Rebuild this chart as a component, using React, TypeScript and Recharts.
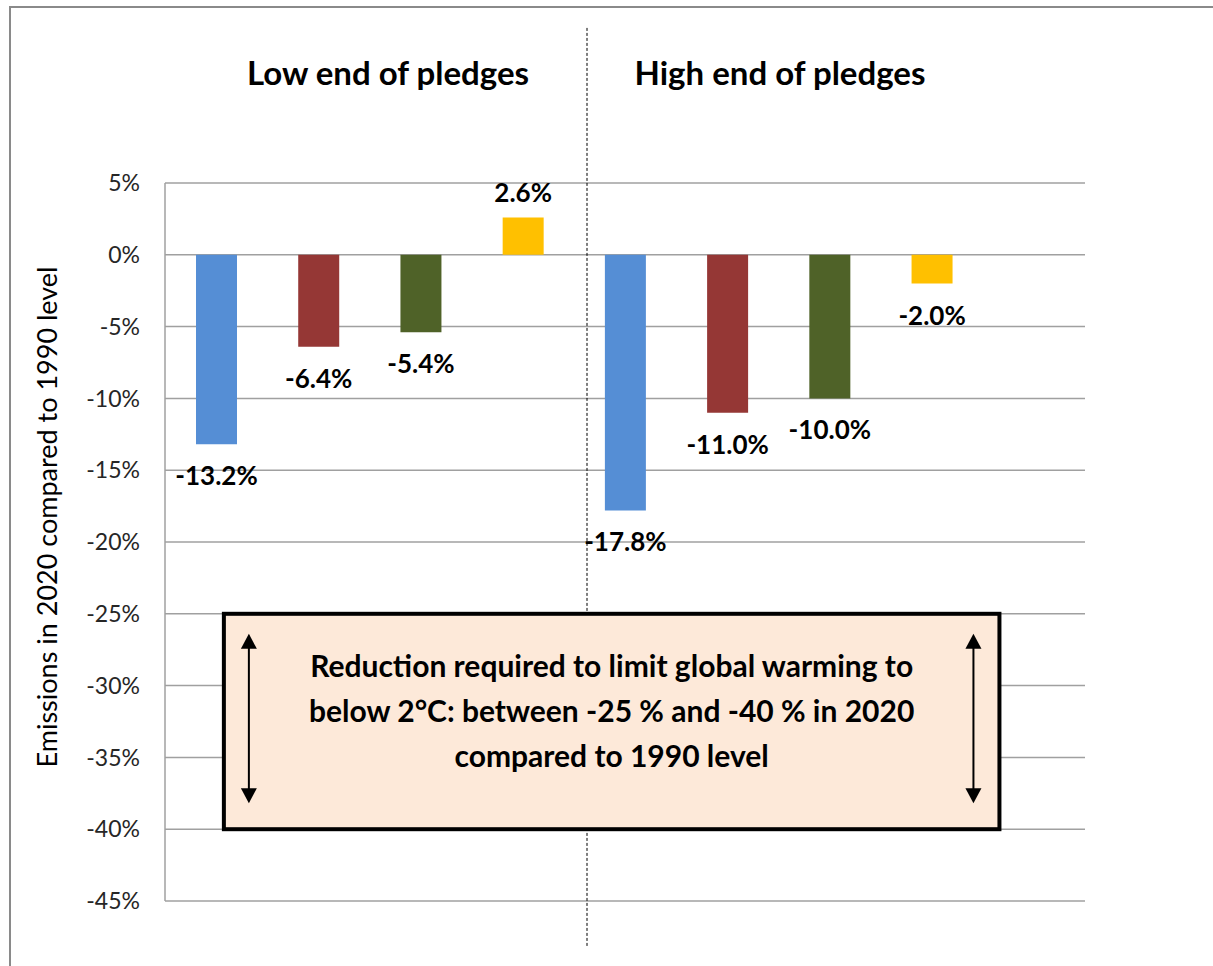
import React from 'react';
import {
  BarChart, Bar, XAxis, YAxis, CartesianGrid, Cell, LabelList, ReferenceArea,
} from 'recharts';

const categories = ['Low A', 'Low B', 'Low C', 'Low D', 'High A', 'High B', 'High C', 'High D', ''];
const values: (number | null)[] = [-13.2, -6.4, -5.4, 2.6, -17.8, -11.0, -10.0, -2.0, null];
const barColors = ['#558ED5', '#953735', '#4F6228', '#FFC000', '#558ED5', '#953735', '#4F6228', '#FFC000', '#FFFFFF'];
const yTicks = [5, 0, -5, -10, -15, -20, -25, -30, -35, -40, -45];
const groupTitles = ['Low end of pledges', 'High end of pledges'];
const boxLines = [
  'Reduction required to limit global warming to',
  'below 2°C: between -25 % and -40 % in 2020',
  'compared to 1990 level',
];
const targetLow = -25;
const targetHigh = -40;

const data = categories.map((c, i) => ({ name: c, value: values[i] }));

const FONT = 'Lato, "Open Sans", sans-serif';

const ValueLabel = (props: any) => {
  const { x, y, width, height, value } = props;
  if (value === null || value === undefined) return null;
  const top = Math.min(y, y + height);
  const bottom = Math.max(y, y + height);
  const cy = value < 0 ? bottom + 31 : top - 25;
  return (
    <text
      x={x + width / 2}
      y={cy}
      textAnchor="middle"
      dominantBaseline="central"
      fontFamily={FONT}
      fontWeight={700}
      fontSize={26}
      fill="#000"
    >
      {value.toFixed(1) + '%'}
    </text>
  );
};

const Arrow = ({ cx, y1, y2 }: { cx: number; y1: number; y2: number }) => (
  <g>
    <line x1={cx} y1={y1 + 12} x2={cx} y2={y2 - 12} stroke="#000" strokeWidth={2} />
    <polygon points={`${cx},${y1} ${cx - 8},${y1 + 15} ${cx + 8},${y1 + 15}`} fill="#000" />
    <polygon points={`${cx},${y2} ${cx - 8},${y2 - 15} ${cx + 8},${y2 - 15}`} fill="#000" />
  </g>
);

// Box spans the y range of the target; horizontally it is inset within the plot area.
const TargetBox = (props: any) => {
  const { x: px, y, width: pw, height } = props;
  const x = px + pw * 0.064;
  const width = pw * (1 - 0.064 - 0.093);
  const cx = x + width / 2;
  return (
    <g>
      <rect x={x} y={y} width={width} height={height} fill="#FDE9D9" stroke="#000" strokeWidth={4} />
      <Arrow cx={x + 25} y1={y + 20} y2={y + height - 26} />
      <Arrow cx={x + width - 26} y1={y + 20} y2={y + height - 26} />
      {boxLines.map((t, i) => (
        <text
          key={i}
          x={cx}
          y={y + 51 + i * 45}
          textAnchor="middle"
          dominantBaseline="central"
          fontFamily={FONT}
          fontWeight={700}
          fontSize={30}
          fill="#000"
        >
          {t}
        </text>
      ))}
    </g>
  );
};

// Dashed separator between the two groups, extending above and below the plot.
const Separator = (props: any) => {
  const { x, y, width, height } = props;
  const lx = x + width * 0.4587;
  return <line x1={lx} y1={y} x2={lx} y2={y + height} stroke="#000" strokeWidth={1} strokeDasharray="3 2" />;
};

export default function App() {
  return (
    <div style={{ position: 'absolute', left: 0, top: 0, width: 1213, height: 966, background: '#fff', overflow: 'hidden' }}>
      <div
        style={{
          position: 'absolute', left: 9, top: 6, width: 1250, height: 1000,
          border: '2.5px solid #8A8A8A', boxSizing: 'border-box',
        }}
      />
      <BarChart
        width={1213}
        height={966}
        data={data}
        margin={{ top: 183, right: 128, bottom: 65, left: 65 }}
        style={{ position: 'absolute', left: 0, top: 0 }}
      >
        <CartesianGrid horizontal vertical={false} stroke="#A0A0A0" strokeWidth={1.5} />
        <XAxis dataKey="name" hide />
        <YAxis
          width={100}
          domain={[-45, 5]}
          ticks={yTicks}
          interval={0}
          tickFormatter={(v: number) => `${v}%`}
          tickLine={false}
          tickSize={0}
          tickMargin={25}
          axisLine={{ stroke: '#A0A0A0', strokeWidth: 1.5 }}
          tick={{ fontFamily: FONT, fontSize: 23, fill: '#262626' }}
        />
        <ReferenceArea y1={15.8} y2={-48.2} ifOverflow="visible" shape={<Separator />} />
        <Bar dataKey="value" barSize={41} isAnimationActive={false}>
          {data.map((d, i) => (
            <Cell key={i} fill={barColors[i]} />
          ))}
          <LabelList dataKey="value" content={<ValueLabel />} />
        </Bar>
        <ReferenceArea
          y1={targetLow}
          y2={targetHigh}
          ifOverflow="visible"
          shape={<TargetBox />}
        />
      </BarChart>
      <div
        style={{
          position: 'absolute', left: 46, top: 517, transform: 'translate(-50%, -50%) rotate(-90deg)',
          whiteSpace: 'nowrap', fontFamily: FONT, fontSize: 27, color: '#000',
        }}
      >
        Emissions in 2020 compared to 1990 level
      </div>
      {groupTitles.map((t, i) => (
        <div
          key={i}
          style={{
            position: 'absolute', left: i === 0 ? 388 : 780, top: 72, transform: 'translate(-50%, -50%)',
            whiteSpace: 'nowrap', fontFamily: FONT, fontWeight: 700, fontSize: 33, color: '#000',
          }}
        >
          {t}
        </div>
      ))}
    </div>
  );
}
